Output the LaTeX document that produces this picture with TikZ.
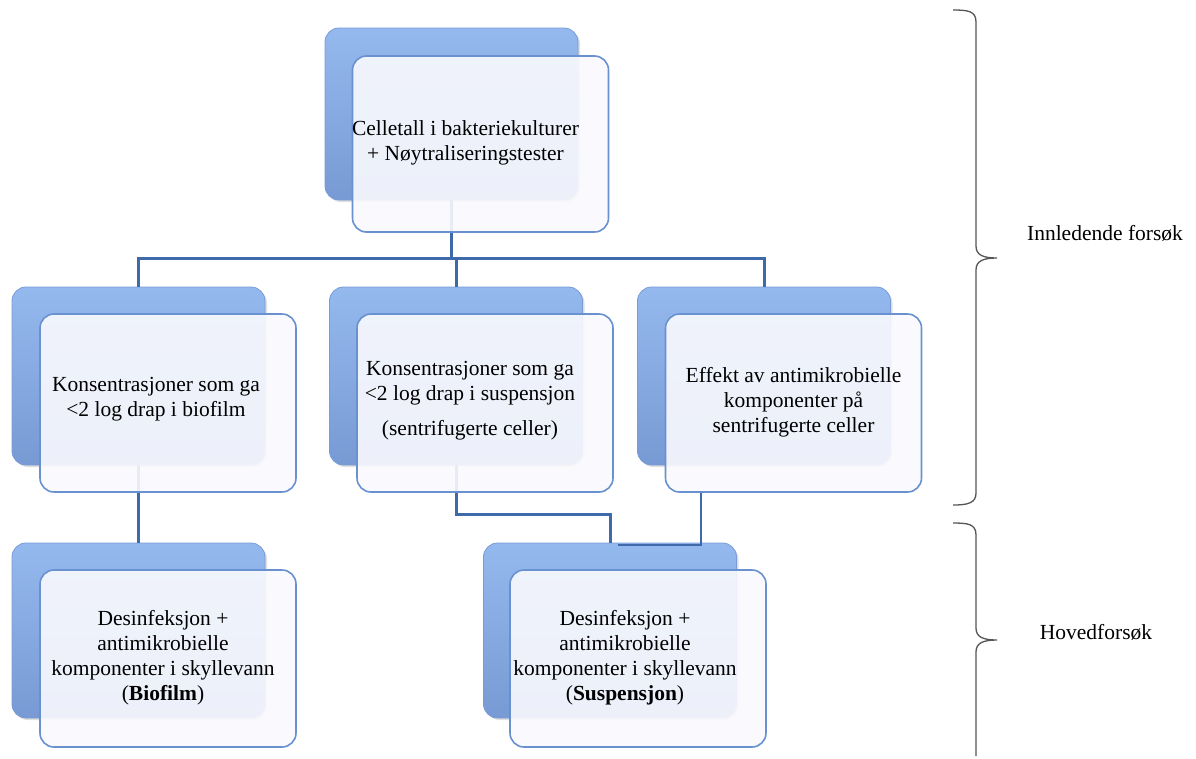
\documentclass[tikz,border=0pt]{standalone}
\usepackage{fontspec}
\setmainfont{Liberation Serif}
\usetikzlibrary{shadows,calc}
\definecolor{conncol}{RGB}{62,106,172}
\definecolor{backtop}{RGB}{148,185,238}
\definecolor{backmid}{RGB}{128,162,220}
\definecolor{backbot}{RGB}{120,154,212}
\definecolor{backline}{RGB}{120,155,215}
\definecolor{frontfill}{RGB}{250,250,254}
\definecolor{frontline}{RGB}{105,145,208}
\definecolor{bracecol}{RGB}{85,85,85}
\tikzset{
  backbox/.style={rectangle, rounded corners=14pt, draw=backline, line width=0.8pt,
    top color=backtop, middle color=backmid, bottom color=backbot, minimum width=253pt, minimum height=176pt,
    drop shadow={opacity=0.25, shadow xshift=2pt, shadow yshift=-2pt}},
  frontbox/.style={rectangle, rounded corners=14pt, draw=frontline, line width=1.6pt,
    fill=frontfill, fill opacity=0.9, minimum width=256pt, minimum height=177pt},
  boxtext/.style={align=center, font=\fontsize{21.5}{25}\selectfont, text=black},
  conn/.style={draw=conncol, line width=3pt},
  connthin/.style={draw=conncol, line width=2pt},
  bracestyle/.style={draw=bracecol, line width=1.3pt},
  sidelabel/.style={font=\fontsize{21.5}{25}\selectfont, text=black}
}
\begin{document}
\begin{tikzpicture}[x=1pt,y=-1pt]
\useasboundingbox (0,0) rectangle (1196,758);
\fill[white] (0,0) rectangle (1196,758);

% back boxes
\node[backbox, minimum height=172pt] (bT) at (451.5,114) {};
\node[backbox, minimum height=178pt] (bA) at (138.5,376) {};
\node[backbox, minimum height=178pt] (bB) at (456,376) {};
\node[backbox, minimum height=178pt] (bC) at (764,376) {};
\node[backbox, minimum height=175pt] (bD) at (138.5,630.5) {};
\node[backbox, minimum height=175pt] (bE) at (610,630.5) {};

% connectors
\coordinate (hub) at (451.5,258);
\draw[conn] (bT.south) -- (hub);
\draw[conn] (bA.north) |- (hub) -| (bC.north);
\draw[conn] (hub) -| (bB.north);
\draw[conn] (bA.south) -- (bD.north);
\draw[conn] (bB.south) -- ++(0,49) -| (bE.north);

% front boxes
\node[frontbox, minimum height=176pt] (fT) at (480.5,144) {};
\node[frontbox, minimum height=178pt] (fA) at (168,403) {};
\node[frontbox, minimum height=178pt] (fB) at (485,403) {};
\node[frontbox, minimum height=178pt] (fC) at (793.5,403) {};
\node[frontbox] (fD) at (168,658.5) {};
\node[frontbox] (fE) at (638,658.5) {};

\draw[connthin] ([xshift=36pt]fC.south west) |- ([xshift=8pt,yshift=-2pt]bE.north);

% texts
\node[boxtext] (tT) at ([xshift=-15pt,yshift=1pt]fT.center) {Celletall i bakteriekulturer\\+ Nøytraliseringstester};
\node[boxtext] (tA) at ([xshift=-12pt,yshift=4pt]fA.center) {Konsentrasjoner som ga\\<2 log drap i biofilm};
\node[boxtext] (tB) at ([xshift=-15pt,yshift=2pt]fB.center) {Konsentrasjoner som ga\\<2 log drap i suspensjon\\[10pt](sentrifugerte celler)};
\node[boxtext] (tC) at ([xshift=0pt,yshift=1pt]fC.center) {Effekt av antimikrobielle\\komponenter på\\sentrifugerte celler};
\node[boxtext] (tD) at ([xshift=-5pt,yshift=1pt]fD.center) {Desinfeksjon +\\antimikrobielle\\komponenter i skyllevann\\(\textbf{Biofilm})};
\node[boxtext] (tE) at ([xshift=-13pt,yshift=1pt]fE.center) {Desinfeksjon +\\antimikrobielle\\komponenter i skyllevann\\(\textbf{Suspensjon})};

% braces
\draw[bracestyle] (953,10) .. controls (968,10) and (976,11) .. (976,22)
  -- (976,246) .. controls (976,255) and (983,258) .. (997,258)
  .. controls (983,258) and (976,261) .. (976,270)
  -- (976,493) .. controls (976,503) and (968,505) .. (953,505);
\draw[bracestyle] (953,523) .. controls (968,523) and (976,524) .. (976,535)
  -- (976,628) .. controls (976,637) and (983,640) .. (997,640)
  .. controls (983,640) and (976,643) .. (976,652)
  -- (976,756);
\node[sidelabel] (l1) at (1105,233) {Innledende forsøk};
\node[sidelabel] (l2) at (1096,632) {Hovedforsøk};
\end{tikzpicture}
\end{document}
